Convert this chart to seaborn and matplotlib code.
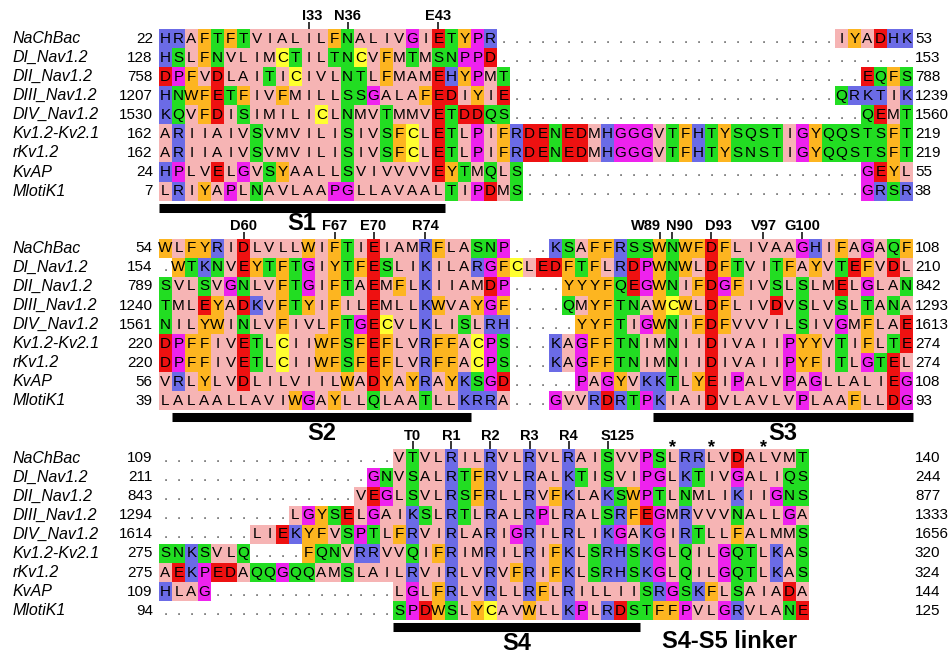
import matplotlib
matplotlib.use("Agg")
import matplotlib.pyplot as plt
from matplotlib.colors import ListedColormap
import numpy as np
import pandas as pd
import seaborn as sns

sns.set_style("white")
plt.rcParams["font.family"] = ["Liberation Sans", "DejaVu Sans"]
plt.rcParams["text.color"] = "black"

NAMES = ["NaChBac", "DI_Nav1.2", "DII_Nav1.2", "DIII_Nav1.2", "DIV_Nav1.2",
         "Kv1.2-Kv2.1", "rKv1.2", "KvAP", "MlotiK1"]

# alignment blocks, "." = gap
BLOCK1 = [
    "HRAFTFTVIALILFNALIVGIETYPR" + "." * 26 + "IYADHK",
    "HSLFNVLIMCTILTNCVFMTMSNPPD" + "." * 32,
    "DPFVDLAITICIVLNTLFMAMEHYPMT" + "." * 27 + "EQFS",
    "HNWFETFIVFMILLSSGALAFEDIYIE" + "." * 25 + "QRKTIK",
    "KQVFDISIMILICLNMVTMMVETDDQS" + "." * 27 + "QEMT",
    "ARIIAIVSVMVILISIVSFCLETLPIFRDENEDMHGGGVTFHTYSQSTIGYQQSTSFT",
    "ARIIAIVSVMVILISIVSFCLETLPIFRDENEDMHGGGVTFHTYSNSTIGYQQSTSFT",
    "HPLVELGVSYAALLSVIVVVVEYTMQLS" + "." * 26 + "GEYL",
    "LRIYAPLNAVLAAPGLLAVAALTIPDMS" + "." * 26 + "GRSR",
]
BLOCK2 = [
    "WLFYRIDLVLLWIFTIEIAMRFLASNP" + "..." + "KSAFFRSSWNWFDFLIVAAGHIFAGAQF",
    "." + "WTKNVEYTFTGIYTFESLIKILARGFCLEDFTFLRDPWNWLDFTVITFAYVTEFVDL",
    "SVLSVGNLVFTGIFTAEMFLKIIAMDP" + "...." + "YYYFQEGWNIFDGFIVSLSLMELGLAN",
    "TMLEYADKVFTYIFILEMLLKWVAYGF" + "...." + "QMYFTNAWCWLDFLIVDVSLVSLTANA",
    "NILYWINLVFIVLFTGECVLKLISLRH" + "....." + "YYFTIGWNIFDFVVVILSIVGMFLAE",
    "DPFFIVETLCIIWFSFEFLVRFFACPS" + "..." + "KAGFFTNIMNIIDIVAIIPYYVTIFLTE",
    "DPFFIVETLCIIWFSFEFLVRFFACPS" + "..." + "KAGFFTNIMNIIDIVAIIPYFITLGTEL",
    "VRLYLVDLILVIILWADYAYRAYKSGD" + "....." + "PAGYVKKTLYEIPALVPAGLLALIEG",
    "LALAALLAVIWGAYLLQLAATLLKRRA" + "..." + "GVVRDRTPKIAIDVLAVLVPLAAFLLDG",
]
BLOCK3 = [
    "." * 18 + "VTVLRILRVLRVLRAISVVPSLRRLVDALVMT",
    "." * 16 + "GNVSALRTFRVLRALKTISVIPGLKTIVGALIQS",
    "." * 15 + "VEGLSVLRSFRLLRVFKLAKSWPTLNMLIKIIGNS",
    "." * 10 + "LGYSELGAIKSLRTLRALRPLRALSRFEGMRVVVNALLGA",
    "." * 7 + "LIEKYFVSPTLFRVIRLARIGRILRLIKGAKGIRTLLFALMMS",
    "SNKSVLQ" + "...." + "FQNVRRVVQIFRIMRILRIFKLSRHSKGLQILGQTLKAS",
    "AEKPEDAQQGQQAMSLAILRVIRLVRVFRIFKLSRHSKGLQILGQTLKAS",
    "HLAG" + "." * 14 + "LGLFRLVRLLRFLRILLIISRGSKFLSAIADA",
    "." * 18 + "SPDWSLYCAVWLLKPLRDSTFFPVLGRVLANE",
]
START = [
    [22, 128, 758, 1207, 1530, 162, 162, 24, 7],
    [54, 154, 789, 1240, 1561, 220, 220, 56, 39],
    [109, 211, 843, 1294, 1614, 275, 275, 109, 94],
]
END = [
    [53, 153, 788, 1239, 1560, 219, 219, 55, 38],
    [108, 210, 842, 1293, 1613, 274, 274, 108, 93],
    [140, 244, 877, 1333, 1656, 320, 324, 144, 125],
]
MARKS = [
    [("I33", 11), ("N36", 14), ("E43", 21)],
    [("D60", 6), ("F67", 13), ("E70", 16), ("R74", 20), ("W89", 38),
     ("N90", 39), ("D93", 42), ("V97", 46), ("G100", 49)],
    [("T0", 19), ("R1", 22), ("R2", 25), ("R3", 28), ("R4", 31), ("S125", 34)],
]
STARS3 = [39, 42, 46]
# (label, block, first col, end col)
SEGMENTS = [("S1", 0, 0, 22), ("S2", 1, 1, 24), ("S3", 1, 38, 58), ("S4", 2, 18, 37)]

CLASSES = ["AILMV", "FWY", "C", "GP", "STNQ", "DE", "RKH"]
COLORS = ["#F6B4B4", "#FDB520", "#FFFF30", "#EE22EE", "#22DD22", "#EE1111",
          "#6B6BE6", "#FFFFFF"]
OVERRIDES = {(0, 3, 55): "RKH"}  # odd blue T in DIII
BLOCK_TOP = [0, 11, 22]
NCOLS = 58
NROWS = 31

BLOCKS = [BLOCK1, BLOCK2, BLOCK3]
codes = np.full((NROWS, NCOLS), np.nan)
letters = np.full((NROWS, NCOLS), "", dtype=object)
for b, (block, top) in enumerate(zip(BLOCKS, BLOCK_TOP)):
    for i, seq in enumerate(block):
        for j, ch in enumerate(seq):
            letters[top + i, j] = ch
            if ch == ".":
                codes[top + i, j] = 7
            else:
                cls = OVERRIDES.get((b, i, j))
                codes[top + i, j] = next(k for k, c in enumerate(CLASSES)
                                         if (cls == c if cls else ch in c))
df = pd.DataFrame(codes)

fig = plt.figure(figsize=(9.52, 6.52), dpi=100)
ax = fig.add_axes([159 / 952, 1 - 620.2 / 652, 754 / 952, 591.2 / 652])
sns.heatmap(df, mask=df.isna(), cmap=ListedColormap(COLORS), vmin=-0.5, vmax=7.5,
            cbar=False, annot=letters, fmt="", ax=ax,
            xticklabels=False, yticklabels=False,
            annot_kws={"color": "black", "fontsize": 11})
for t in ax.texts:
    if t.get_text() == ".":
        t.set_color("#555555")
        t.set_fontsize(10.5)
ax.tick_params(length=0)

for b, top in enumerate(BLOCK_TOP):
    for i, name in enumerate(NAMES):
        y = top + i + 0.5
        ax.text(-11.25, y, name, fontsize=11.5, style="italic", ha="left",
                va="center", clip_on=False)
        ax.text(-0.48, y, str(START[b][i]), fontsize=11, ha="right",
                va="center", clip_on=False)
        ax.text(58.15, y, str(END[b][i]), fontsize=11, ha="left",
                va="center", clip_on=False)
    for lab, col in MARKS[b]:
        x = col + 0.5
        ha = "center"
        if lab in ("I33", "N90", "D93", "S125"):
            x, ha = col, "left"
        elif lab == "W89":
            x, ha = col + 0.6, "right"
        ax.text(x, top - 0.68, lab, fontsize=10.5, fontweight="bold",
                ha=ha, va="center", clip_on=False)
        ax.vlines(col + 0.5, top - 0.38, top, color="black", lw=1.1,
                  clip_on=False)

for col in STARS3:
    ax.text(col + 0.5, BLOCK_TOP[2] - 0.05, "*", fontsize=13, fontweight="bold",
            ha="center", va="center", clip_on=False)

for lab, b, c0, c1 in SEGMENTS:
    bottom = BLOCK_TOP[b] + len(NAMES)
    ax.hlines(bottom + 0.37, c0, c1, color="black", lw=6.5, capstyle="butt",
              clip_on=False)
    ax.text((c0 + c1) / 2, bottom + 1.2, lab, fontsize=17, fontweight="bold",
            ha="center", va="center", clip_on=False)
ax.text(43.9, BLOCK_TOP[2] + len(NAMES) + 1.1, "S4-S5 linker", fontsize=17,
        fontweight="bold", ha="center", va="center", clip_on=False)

fig.savefig("out.png", dpi=100)
